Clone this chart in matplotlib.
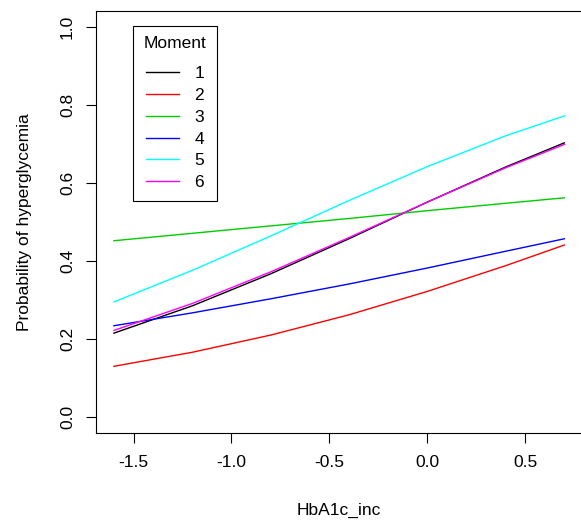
import matplotlib
matplotlib.use("Agg")
import matplotlib.pyplot as plt

plt.rcParams['font.family'] = ['Liberation Sans', 'DejaVu Sans']

# predicted probabilities by HbA1c_inc for each moment
hba1c = [-1.6, -1.2, -0.8, -0.4, 0.0, 0.4, 0.7]
moments = ["1", "2", "3", "4", "5", "6"]
prob_m1 = [0.215, 0.285, 0.367, 0.457, 0.551, 0.641, 0.703]
prob_m2 = [0.130, 0.166, 0.210, 0.262, 0.322, 0.388, 0.441]
prob_m3 = [0.452, 0.471, 0.490, 0.509, 0.529, 0.548, 0.562]
prob_m4 = [0.234, 0.267, 0.303, 0.341, 0.382, 0.425, 0.457]
prob_m5 = [0.295, 0.376, 0.464, 0.555, 0.642, 0.721, 0.772]
prob_m6 = [0.222, 0.291, 0.372, 0.460, 0.551, 0.639, 0.699]
colours = ["black", "#FF0000", "#00CD00", "#0000FF", "#00FFFF", "#FF00FF"]

fs = 12.5

fig = plt.figure(figsize=(5.81, 5.21), dpi=100)
ax = fig.add_axes([95.9 / 581, 88.4 / 521, 486.5 / 581, 421.2 / 521])

series = [prob_m1, prob_m2, prob_m3, prob_m4, prob_m5, prob_m6]
for m, p, c in zip(moments, series, colours):
    ax.plot(hba1c, p, color=c, lw=1.0, label=m)

ax.set_xlim(-1.692, 0.792)
ax.set_ylim(-0.04, 1.04)
ax.set_xticks([-1.5, -1.0, -0.5, 0.0, 0.5])
ax.set_xticklabels(["-1.5", "-1.0", "-0.5", "0.0", "0.5"])
ax.set_yticks([0.0, 0.2, 0.4, 0.6, 0.8, 1.0])
ax.set_yticklabels(["0.0", "0.2", "0.4", "0.6", "0.8", "1.0"],
                   rotation=90, va="center")
ax.tick_params(direction="out", length=7, width=0.8, labelsize=fs,
               colors="black")
ax.tick_params(axis="x", pad=9)
ax.tick_params(axis="y", pad=8)
for s in ax.spines.values():
    s.set_linewidth(0.8)
    s.set_color("black")

ax.set_xlabel("HbA1c_inc", fontsize=fs, labelpad=24)
ax.set_ylabel("Probability of hyperglycemia", fontsize=fs, labelpad=20)

leg = ax.legend(title="Moment", loc="upper left",
                bbox_to_anchor=(133 / 581, 1 - 26 / 521),
                bbox_transform=fig.transFigure,
                fontsize=fs, title_fontsize=fs, fancybox=False,
                frameon=True, edgecolor="black", framealpha=1,
                handlelength=1.95, handletextpad=0.85, labelspacing=0.38,
                borderpad=0.6, borderaxespad=0)
leg.get_frame().set_linewidth(0.8)
# extra room between the legend title and the first entry
leg._legend_box.sep = 0.38 * fs + 6

fig.savefig("out.png", dpi=100)
